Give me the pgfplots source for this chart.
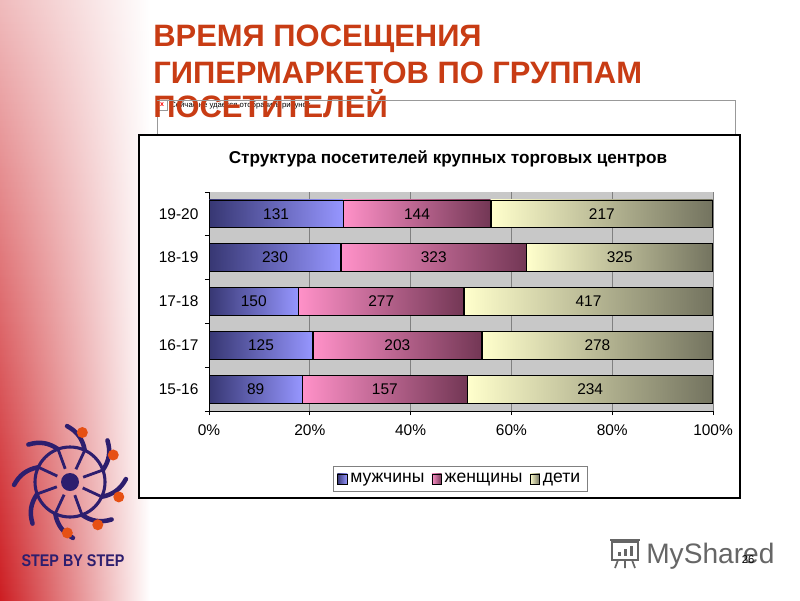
\documentclass[border=0pt]{standalone}
\usepackage{fontspec}
\setmainfont{Liberation Sans}
\usepackage{pgfplots}
\usepackage{pgfplotstable}
\pgfplotsset{compat=1.18}
\usetikzlibrary{fadings}

\definecolor{titlered}{RGB}{200,60,20}
\definecolor{mdark}{RGB}{55,55,115}
\definecolor{mlight}{RGB}{150,150,255}
\definecolor{wlight}{RGB}{255,145,200}
\definecolor{wdark}{RGB}{115,55,85}
\definecolor{dlight}{RGB}{255,255,204}
\definecolor{ddark}{RGB}{115,115,95}
\definecolor{plotgray}{RGB}{200,200,200}
\definecolor{navy}{RGB}{45,30,110}
\definecolor{logoorange}{RGB}{230,80,20}
\definecolor{slidered}{RGB}{205,30,35}

% visitors by time slot: men, women, children
\pgfplotstableread{
y m w d
0 89 157 234
1 125 203 278
2 150 277 417
3 230 323 325
4 131 144 217
}\rawdata
\pgfplotstablecreatecol[create col/expr={100*\thisrow{m}/(\thisrow{m}+\thisrow{w}+\thisrow{d})}]{mp}\rawdata
\pgfplotstablecreatecol[create col/expr={100*\thisrow{w}/(\thisrow{m}+\thisrow{w}+\thisrow{d})}]{wp}\rawdata
\pgfplotstablecreatecol[create col/expr={100*\thisrow{d}/(\thisrow{m}+\thisrow{w}+\thisrow{d})}]{dp}\rawdata

% each segment is drawn as its own shaded node, so the gradient runs per bar
\pgfplotsset{
  segment/.style n args={3}{
    draw=none, fill=none, forget plot,
    visualization depends on={357.17*\thisrow{#1}/(\thisrow{m}+\thisrow{w}+\thisrow{d}) \as \segw},
    every node near coord/.append style={
      draw=black, line width=0.6pt, left color=#2, right color=#3, text=black,
      minimum width=\segw pt, minimum height=19.8pt, inner sep=0pt, anchor=center},
  },
}

\begin{document}
\begin{tikzpicture}[x=0.025cm, y=0.025cm]
% slide background
\fill[white] (0,0) rectangle (800,600);
\shade[left color=slidered, right color=white] (0,0) rectangle (150,600);
\fill[white, path fading=south, opacity=0.7] (0,0) rectangle (150,600);

% broken picture frame
\draw[black!40, line width=0.5pt] (157,140) -- (157,500) -- (735,500) -- (735,140);
\draw[black!40, line width=0.5pt, fill=white] (157,500) rectangle (167,490);
\node[red, font=\fontsize{5}{5}\selectfont\bfseries, inner sep=0pt] at (162,495) {x};
\node[anchor=west, font=\fontsize{5.5}{6}\selectfont, inner sep=0pt] at (170,495) {Сейчас не удается отобразить рисунок.};

% slide title
\begin{scope}[font=\fontsize{22}{26}\selectfont\bfseries, text=titlered]
\node[anchor=base west, inner sep=0pt] at (153,553) {ВРЕМЯ ПОСЕЩЕНИЯ};
\node[anchor=base west, inner sep=0pt] at (153,516) {ГИПЕРМАРКЕТОВ ПО ГРУППАМ};
\node[anchor=base west, inner sep=0pt] at (153,482) {ПОСЕТИТЕЛЕЙ};
\end{scope}
\draw[black!40, line width=0.5pt] (157,500) -- (735,500);

% chart frame
\draw[black, line width=1pt, fill=white] (139,102) rectangle (740,465);
\node[anchor=base, font=\fontsize{12.2}{14}\selectfont\bfseries, inner sep=0pt] at (448,436)
  {Структура посетителей крупных торговых центров};

\coordinate (sw) at (209,189);
\begin{axis}[
    at={(sw)}, anchor=south west,
    scale only axis, width=12.6cm, height=5.475cm,
    xbar stacked, bar width=19.8pt,
    xmin=0, xmax=100.02, ymin=-0.5, ymax=4.5,
    axis background/.style={fill=plotgray},
    xmajorgrids, grid style={black!50, line width=0.6pt},
    axis x line*=bottom, axis y line*=left,
    axis line style={black, line width=0.6pt},
    xtick={0,20,...,100}, xticklabels={0\%,20\%,40\%,60\%,80\%,100\%},
    ytick={-0.5,0.5,...,4.5}, yticklabels={},
    extra y ticks={0,1,2,3,4},
    extra y tick labels={15-16,16-17,17-18,18-19,19-20},
    extra y tick style={major tick length=0pt, grid=none},
    tick align=outside, major tick length=3pt,
    tick style={black, line width=0.6pt},
    ticklabel style={font=\fontsize{11}{13}\selectfont},
    xticklabel style={yshift=-3pt},
    yticklabel style={xshift=-4pt},
    point meta=explicit symbolic,
    nodes near coords,
    nodes near coords style={font=\fontsize{11}{13}\selectfont},
    legend columns=3,
    legend style={at={(0.498,-0.31)}, anchor=center, draw=black!50,
      font=\fontsize{12.5}{14}\selectfont, inner sep=3pt,
      /tikz/every even column/.append style={column sep=3pt}},
    legend image code/.code={\draw[#1, draw=black, line width=0.4pt] (0pt,-3.5pt) rectangle (7pt,3.5pt);},
]
\addplot[segment={m}{mdark}{mlight}] table[x=mp, y=y, meta=m] {\rawdata};
\addplot[segment={w}{wlight}{wdark}] table[x=wp, y=y, meta=w] {\rawdata};
\addplot[segment={d}{dlight}{ddark}] table[x=dp, y=y, meta=d] {\rawdata};
\addlegendimage{left color=mdark, right color=mlight}
\addlegendentry{мужчины}
\addlegendimage{left color=wlight, right color=wdark}
\addlegendentry{женщины}
\addlegendimage{left color=dlight, right color=ddark}
\addlegendentry{дети}
\end{axis}

% logo
\begin{scope}[shift={(70,118)}]
\draw[navy, line width=2.2pt] (0,0) circle (35);
\fill[navy] (0,0) circle (9);
\foreach \a in {20,65,110,155,200,245,290,335} {
  \draw[navy, line width=2pt] (\a:14) -- (\a:35);
  \draw[navy, line width=3.2pt, line cap=round] (\a:35) to[bend right=25] (\a+28:56);
}
\foreach \a in {76,32,-17,-57,-93} {
  \fill[logoorange] (\a:51) circle (5.5);
}
\end{scope}
\node[navy, font=\fontsize{12}{14}\selectfont\bfseries, xscale=0.85, inner sep=0pt, anchor=base] at (73,34) {STEP BY STEP};

% watermark
\begin{scope}[black!60, line width=1.2pt]
\draw (612,40) rectangle (638,58);
\draw (610,60) -- (640,60);
\fill (618,44) rectangle (621,48);
\fill (624,44) rectangle (627,51);
\fill (630,44) rectangle (633,54);
\draw (618,40) -- (615,32) (632,40) -- (635,32) (625,40) -- (625,32);
\end{scope}
\node[black!60, font=\fontsize{20}{22}\selectfont, anchor=base west, inner sep=0pt] at (646,37) {MyShared};
\node[font=\fontsize{8}{9}\selectfont, anchor=base, inner sep=0pt] at (748,37) {26};
\end{tikzpicture}
\end{document}
